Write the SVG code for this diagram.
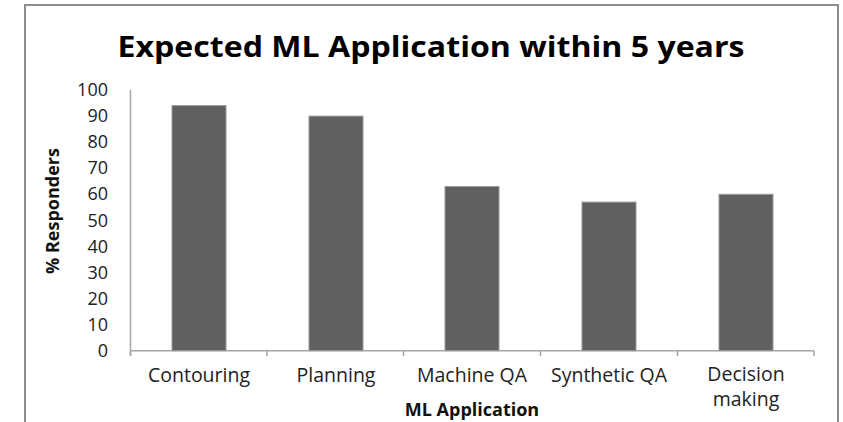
<svg xmlns="http://www.w3.org/2000/svg" width="843" height="422" viewBox="0 0 843 422">
  <style>
    .lbl { font-family: "Open Sans", "Liberation Sans", sans-serif; fill: #222; }
    .tick { font-size: 18px; text-anchor: end; }
    .cat { font-size: 19.5px; text-anchor: middle; }
    .axt { font-family: "Open Sans", "Liberation Sans", sans-serif; font-weight: bold; font-size: 18px; fill: #111; text-anchor: middle; }
    .bar { fill: #606060; stroke: #9a9a9a; stroke-width: 1; }
    .axis { stroke: #a6a6a6; stroke-width: 1.5; fill: none; }
  </style>
  <rect x="0" y="0" width="843" height="422" fill="#ffffff"/>
  <rect id="frame" x="25" y="5" width="813" height="440" fill="#ffffff" stroke="#8c8c8c" stroke-width="2"/>
  <g id="title">
    <text x="431" y="57" font-family="'Open Sans', 'Liberation Sans', sans-serif" font-weight="bold" font-size="28" fill="#000" text-anchor="middle" textLength="627" lengthAdjust="spacingAndGlyphs">Expected ML Application within 5 years</text>
  </g>
  <g id="y-axis">
    <line class="axis" x1="130.5" y1="90" x2="130.5" y2="356"/>
    <g class="lbl tick">
      <text x="108" y="96">100</text>
      <text x="108" y="122">90</text>
      <text x="108" y="148">80</text>
      <text x="108" y="174">70</text>
      <text x="108" y="200">60</text>
      <text x="108" y="227">50</text>
      <text x="108" y="253">40</text>
      <text x="108" y="279">30</text>
      <text x="108" y="305">20</text>
      <text x="108" y="331">10</text>
      <text x="108" y="357">0</text>
    </g>
    <text class="axt" transform="translate(59,211) rotate(-90)">% Responders</text>
  </g>
  <g id="x-axis">
    <line class="axis" x1="130.5" y1="350.7" x2="814" y2="350.7"/>
    <line class="axis" x1="130.5" y1="350.7" x2="130.5" y2="356"/>
    <line class="axis" x1="267" y1="350.7" x2="267" y2="356"/>
    <line class="axis" x1="403.5" y1="350.7" x2="403.5" y2="356"/>
    <line class="axis" x1="540.5" y1="350.7" x2="540.5" y2="356"/>
    <line class="axis" x1="677.5" y1="350.7" x2="677.5" y2="356"/>
    <line class="axis" x1="814" y1="350.7" x2="814" y2="356"/>
    <text class="axt" x="472" y="416">ML Application</text>
  </g>
  <g id="bar-contouring">
    <rect class="bar" x="172" y="105.6" width="54" height="245.1"/>
    <text class="lbl cat" x="199" y="382">Contouring</text>
  </g>
  <g id="bar-planning">
    <rect class="bar" x="309" y="116.1" width="54" height="234.6"/>
    <text class="lbl cat" x="336" y="382">Planning</text>
  </g>
  <g id="bar-machine-qa">
    <rect class="bar" x="445" y="186.5" width="54" height="164.2"/>
    <text class="lbl cat" x="472" y="382">Machine QA</text>
  </g>
  <g id="bar-synthetic-qa">
    <rect class="bar" x="582" y="202.1" width="54" height="148.6"/>
    <text class="lbl cat" x="609" y="382">Synthetic QA</text>
  </g>
  <g id="bar-decision-making">
    <rect class="bar" x="719" y="194.3" width="54" height="156.4"/>
    <text class="lbl cat" x="746" y="381">Decision</text>
    <text class="lbl cat" x="746" y="406">making</text>
  </g>
</svg>
